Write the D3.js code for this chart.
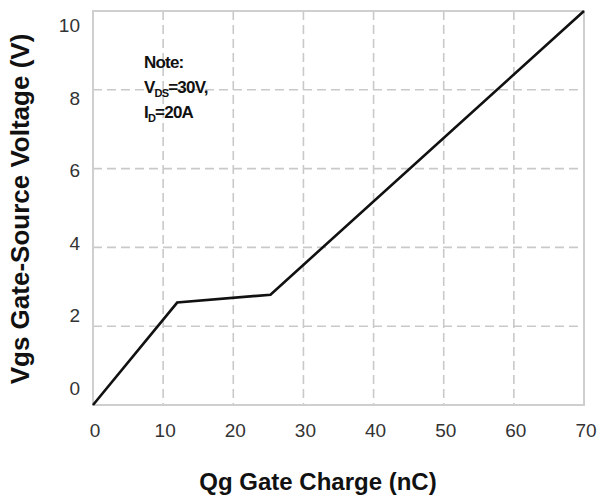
<!DOCTYPE html>
<html>
<head>
<meta charset="utf-8">
<script src="https://cdn.jsdelivr.net/npm/d3@7"></script>
<style>
  html, body { margin: 0; padding: 0; background: #fff; }
  svg { display: block; }
</style>
</head>
<body>
<svg id="chart" width="612" height="496"></svg>
<script>
// ---- data ----
const qg = [0, 12, 25.3, 70];          // gate charge (nC)
const vgs = [0, 2.6, 2.8, 10];         // gate-source voltage (V)
const xTicks = [0, 10, 20, 30, 40, 50, 60, 70];
const yTicks = [0, 2, 4, 6, 8, 10];
const xTitle = "Qg Gate Charge (nC)";
const yTitle = "Vgs Gate-Source Voltage (V)";
const noteLines = ["Note:", "V|DS|=30V,", "I|D|=20A"];

(function () {
// ---- layout ----
const svg = d3.select("#chart");
const pl = 93, pr = 584, pt = 11, pb = 405;

const x = d3.scaleLinear().domain([0, 70]).range([pl, pr]);
const y = d3.scaleLinear().domain([0, 10]).range([pb, pt]);
// tick labels in the reference sit on a slightly compressed scale
const yLab = d3.scaleLinear().domain([0, 10]).range([388, 25]);

const gridColor = "#c9c9c9";

// grid
svg.append("g").selectAll("line")
  .data(xTicks.slice(1, -1)).join("line")
  .attr("x1", d => x(d)).attr("x2", d => x(d))
  .attr("y1", pt).attr("y2", pb)
  .attr("stroke", gridColor).attr("stroke-width", 1.6)
  .attr("stroke-dasharray", "9,5");

svg.append("g").selectAll("line")
  .data(yTicks.slice(1, -1)).join("line")
  .attr("x1", pl).attr("x2", pr)
  .attr("y1", d => y(d)).attr("y2", d => y(d))
  .attr("stroke", gridColor).attr("stroke-width", 1.6)
  .attr("stroke-dasharray", "9,5");

// frame
svg.append("rect")
  .attr("x", pl).attr("y", pt)
  .attr("width", pr - pl).attr("height", pb - pt)
  .attr("fill", "none").attr("stroke", "#cfcfcf").attr("stroke-width", 2);

// x tick labels
svg.append("g").selectAll("text")
  .data(xTicks).join("text")
  .attr("x", d => x(d) + 2).attr("y", 437)
  .attr("text-anchor", "middle")
  .attr("font-family", "Liberation Sans, Arial, sans-serif")
  .attr("font-size", 19).attr("fill", "#333")
  .text(d => d);

// y tick labels
svg.append("g").selectAll("text")
  .data(yTicks).join("text")
  .attr("x", 80).attr("y", d => yLab(d) + 7)
  .attr("text-anchor", "end")
  .attr("font-family", "Liberation Sans, Arial, sans-serif")
  .attr("font-size", 19).attr("fill", "#333")
  .text(d => d);

// data line
const line = d3.line().x(d => x(d[0])).y(d => y(d[1]));
svg.append("path")
  .datum(qg.map((q, i) => [q, vgs[i]]))
  .attr("d", line)
  .attr("fill", "none").attr("stroke", "#111").attr("stroke-width", 2.6)
  .attr("stroke-linejoin", "miter");

// note
const note = svg.append("g")
  .attr("font-family", "Liberation Sans, Arial, sans-serif")
  .attr("font-weight", "bold").attr("font-size", 17)
  .attr("fill", "#111").attr("letter-spacing", "-0.8");
noteLines.forEach((s, i) => {
  const parts = s.split("|");
  const t = note.append("text").attr("x", 144).attr("y", 68 + i * 25);
  t.append("tspan").text(parts[0]);
  if (parts.length > 1) {
    t.append("tspan").attr("font-size", 11).attr("dy", 4).text(parts[1]);
    t.append("tspan").attr("dy", -4).text(parts[2]);
  }
});

// axis titles
svg.append("text")
  .attr("x", 318).attr("y", 490)
  .attr("text-anchor", "middle")
  .attr("font-family", "Liberation Sans, Arial, sans-serif")
  .attr("font-weight", "bold").attr("font-size", 24).attr("fill", "#111")
  .text(xTitle);

svg.append("text")
  .attr("transform", "translate(29,209) rotate(-90)")
  .attr("text-anchor", "middle")
  .attr("font-family", "Liberation Sans, Arial, sans-serif")
  .attr("font-weight", "bold").attr("font-size", 26).attr("fill", "#111")
  .text(yTitle);
})();
</script>
</body>
</html>
